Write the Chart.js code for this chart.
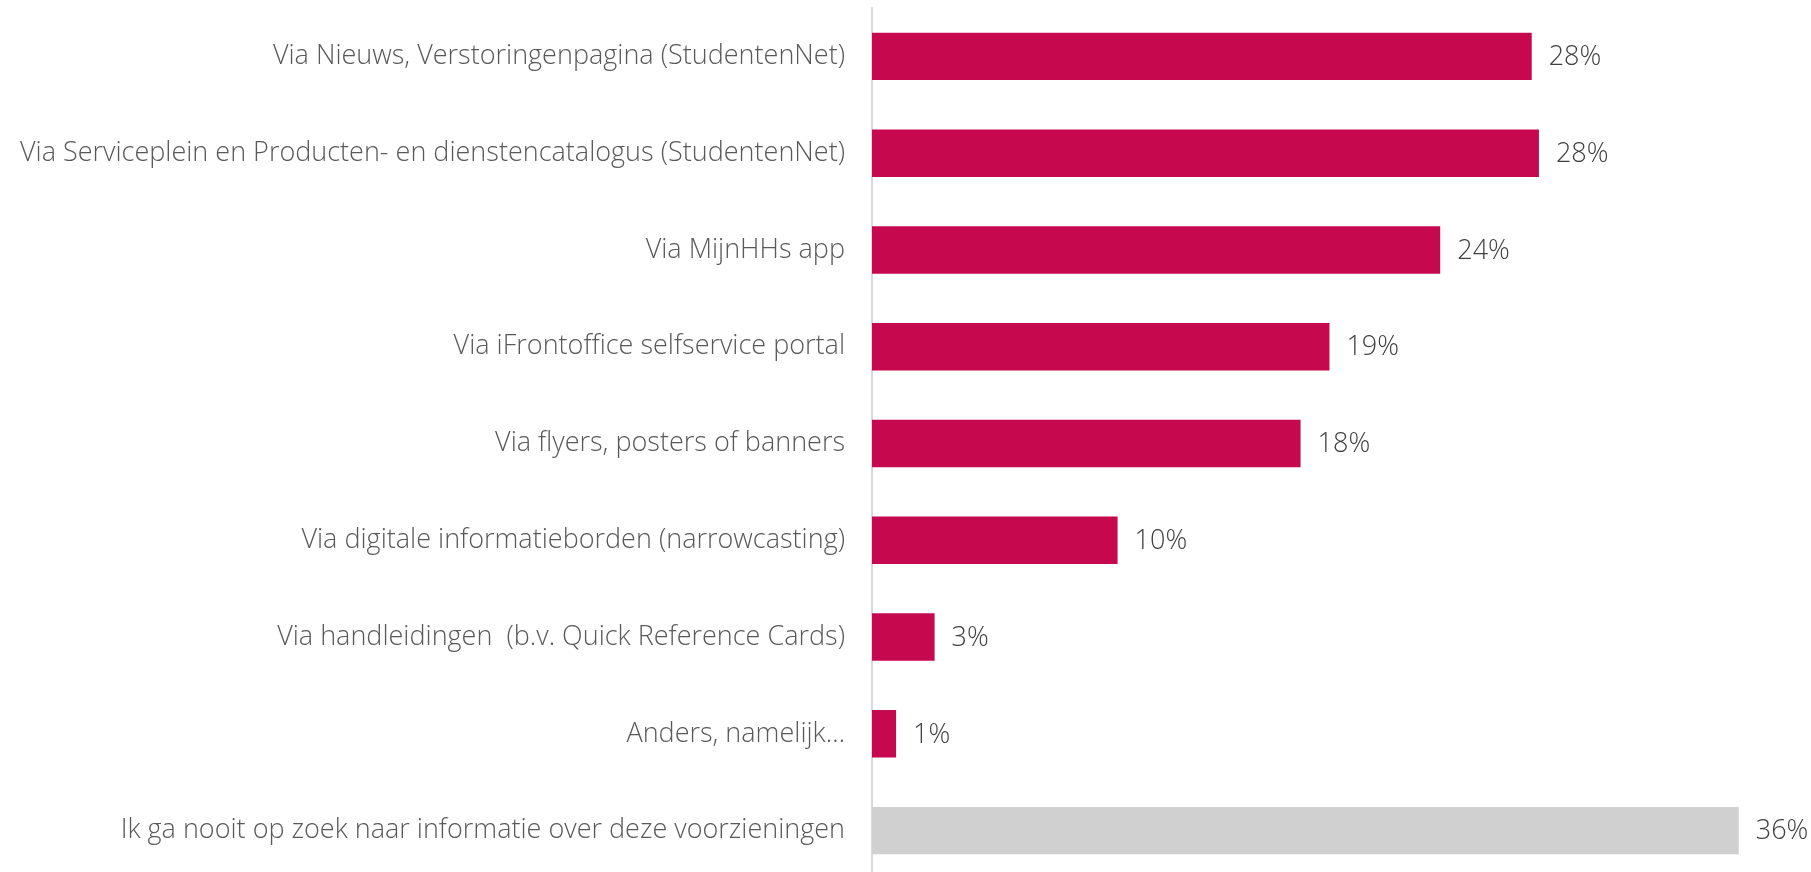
<!DOCTYPE html>
<html>
<head>
<meta charset="utf-8">
<script src="https://cdn.jsdelivr.net/npm/chart.js"></script>
<style>
  html, body { margin: 0; padding: 0; background: #fff; overflow: hidden; }
  #wrap { width: 1811px; height: 879px; position: relative; }
</style>
</head>
<body>
<div id="wrap"><canvas id="chart"></canvas></div>
<script>
const categories = [
  'Via Nieuws, Verstoringenpagina (StudentenNet)',
  'Via Serviceplein en Producten- en dienstencatalogus (StudentenNet)',
  'Via MijnHHs app',
  'Via iFrontoffice selfservice portal',
  'Via flyers, posters of banners',
  'Via digitale informatieborden (narrowcasting)',
  'Via handleidingen  (b.v. Quick Reference Cards)',
  'Anders, namelijk…',
  'Ik ga nooit op zoek naar informatie over deze voorzieningen'
];
const values = [27.4, 27.7, 23.6, 19.0, 17.8, 10.2, 2.6, 1.0, 36.0];
const valueLabels = ['28%', '28%', '24%', '19%', '18%', '10%', '3%', '1%', '36%'];
const barColors = ['#c6084f', '#c6084f', '#c6084f', '#c6084f', '#c6084f', '#c6084f', '#c6084f', '#c6084f', '#d0d0d0'];

const fontFamily = '"Open Sans", "Lato", sans-serif';

// draws the "28%" labels next to each bar end
const valueLabelPlugin = {
  id: 'valueLabels',
  afterDatasetsDraw(chart) {
    const ctx = chart.ctx;
    const meta = chart.getDatasetMeta(0);
    ctx.save();
    ctx.font = '300 27px ' + fontFamily;
    ctx.fillStyle = '#404040';
    ctx.textAlign = 'left';
    ctx.textBaseline = 'middle';
    meta.data.forEach((bar, i) => {
      ctx.fillText(valueLabels[i], bar.x + 17, bar.y + 1);
    });
    ctx.restore();
  }
};

new Chart(document.getElementById('chart'), {
  type: 'bar',
  data: {
    labels: categories,
    datasets: [{
      data: values,
      backgroundColor: barColors,
      borderWidth: 0,
      categoryPercentage: 1,
      barPercentage: 0.49
    }]
  },
  options: {
    indexAxis: 'y',
    responsive: true,
    maintainAspectRatio: false,
    animation: false,
    layout: { padding: { top: 8, right: 0, bottom: 0, left: 0 } },
    plugins: {
      legend: { display: false },
      tooltip: { enabled: false }
    },
    scales: {
      x: {
        display: false,
        min: 0,
        max: 39
      },
      y: {
        grid: { display: false, drawTicks: false },
        border: { display: true, color: '#d9d9d9', width: 2 },
        afterFit(scale) {
          scale.width = 872;
          scale.paddingTop = 0;
          scale.paddingBottom = 0;
        },
        ticks: {
          padding: 27,
          color: '#595959',
          font: { family: fontFamily, size: 27, weight: '300' }
        }
      }
    }
  },
  plugins: [valueLabelPlugin]
});
</script>
</body>
</html>
